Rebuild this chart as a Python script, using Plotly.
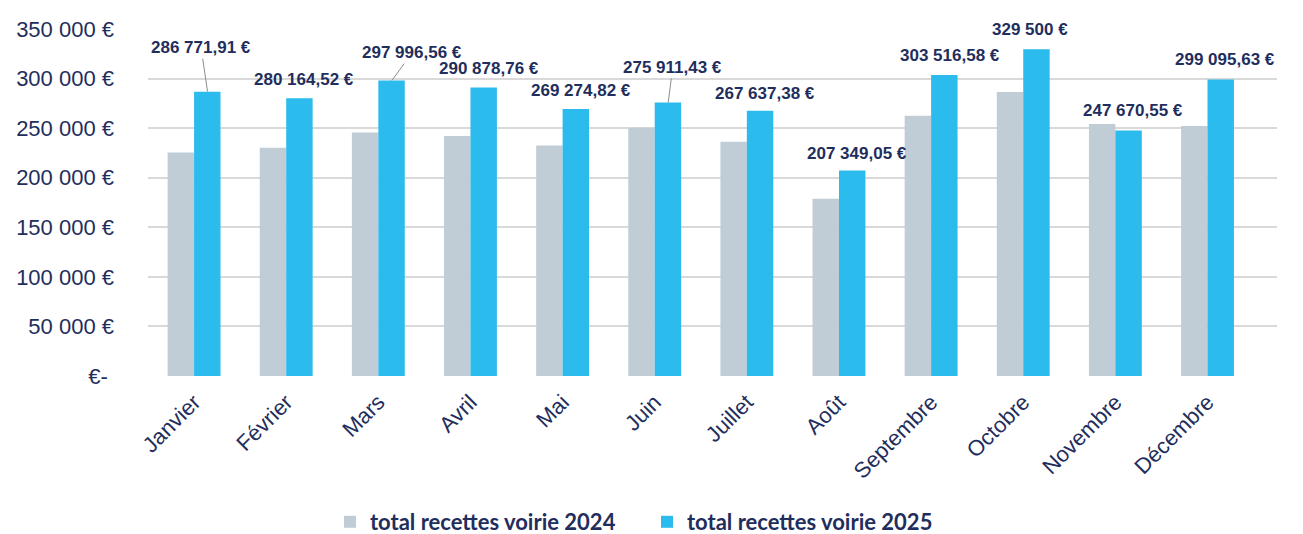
import plotly.graph_objects as go

months = ["Janvier", "Février", "Mars", "Avril", "Mai", "Juin", "Juillet",
          "Août", "Septembre", "Octobre", "Novembre", "Décembre"]
rec2024 = [225500, 230200, 245700, 242000, 232600, 250400, 236200,
           178700, 262500, 286400, 254100, 252100]
rec2025 = [286771.91, 280164.52, 297996.56, 290878.76, 269274.82, 275911.43,
           267637.38, 207349.05, 303516.58, 329500.00, 247670.55, 299095.63]
labels2025 = ["286 771,91 €", "280 164,52 €", "297 996,56 €", "290 878,76 €",
              "269 274,82 €", "275 911,43 €", "267 637,38 €", "207 349,05 €",
              "303 516,58 €", "329 500 €", "247 670,55 €", "299 095,63 €"]
ytickvals = [0, 50000, 100000, 150000, 200000, 250000, 300000, 350000]
yticktext = ["€-\u00a0", "50 000 €", "100 000 €", "150 000 €", "200 000 €",
             "250 000 €", "300 000 €", "350 000 €"]

# label placement (style): pixel offsets of label centre from the bar top
label_dx = [-6.5, 4.5, 20.5, 5, 5, 4.5, 4.5, 4.5, 5, -7, 4, 4]
label_dy = [-44, -19, -28, -19, -19, -35, -17, -17, -20, -20, -20, -20]
leader = [True, False, True, False, False, True, False, False, False, False, False, False]

NAVY = "#1f2e5c"
GRID = "#d9d9d9"

fig = go.Figure()
fig.add_trace(go.Bar(x=months, y=rec2024, name="total recettes voirie 2024",
                     marker=dict(color="#c0cdd7", line=dict(width=0))))
fig.add_trace(go.Bar(x=months, y=rec2025, name="total recettes voirie 2025",
                     marker=dict(color="#2cbbed", line=dict(width=0))))

annotations = []
for m, v, t, dx, dy, ld in zip(months, rec2025, labels2025, label_dx, label_dy, leader):
    annotations.append(dict(
        x=m, y=v, xref="x", yref="y", xshift=13.5,
        text=t, showarrow=True, arrowhead=0, ax=dx, ay=dy,
        arrowwidth=1, arrowcolor="#8c8c8c" if ld else "rgba(0,0,0,0)",
        standoff=0,
        font=dict(family="Liberation Sans, Arial", size=17, color=NAVY, weight="bold"),
    ))

fig.update_layout(
    width=1303, height=534,
    margin=dict(l=148, r=26, t=29, b=158, autoexpand=False),
    plot_bgcolor="white", paper_bgcolor="white",
    barmode="group", bargap=0.426, bargroupgap=0,
    font=dict(family="Liberation Sans, Arial", color=NAVY),
    annotations=annotations,
    showlegend=True,
    legend=dict(orientation="h", x=330 / 1303, xanchor="left", xref="container",
                y=(534 - 522) / 534, yanchor="middle", yref="container",
                font=dict(family="Lato", size=22, color=NAVY, weight="bold"),
                entrywidth=272, entrywidthmode="pixels",
                itemsizing="constant", traceorder="normal"),
)
fig.update_xaxes(
    type="category", tickangle=-45, showgrid=False, automargin=False,
    showline=False, ticks="", ticklabelstandoff=8,
    tickfont=dict(family="Liberation Sans, Arial", size=22, color=NAVY),
)
fig.update_yaxes(
    range=[0, 350000], tickvals=ytickvals, ticktext=yticktext, automargin=False,
    showgrid=True, gridcolor=GRID, gridwidth=1.5, zeroline=False,
    showline=False, ticks="", ticklabelstandoff=33,
    tickfont=dict(family="Liberation Sans, Arial", size=22, color=NAVY),
)

fig.write_html("out.html", config={"displayModeBar": False},
               post_script="document.body.style.margin='0';document.body.style.overflow='hidden';")
